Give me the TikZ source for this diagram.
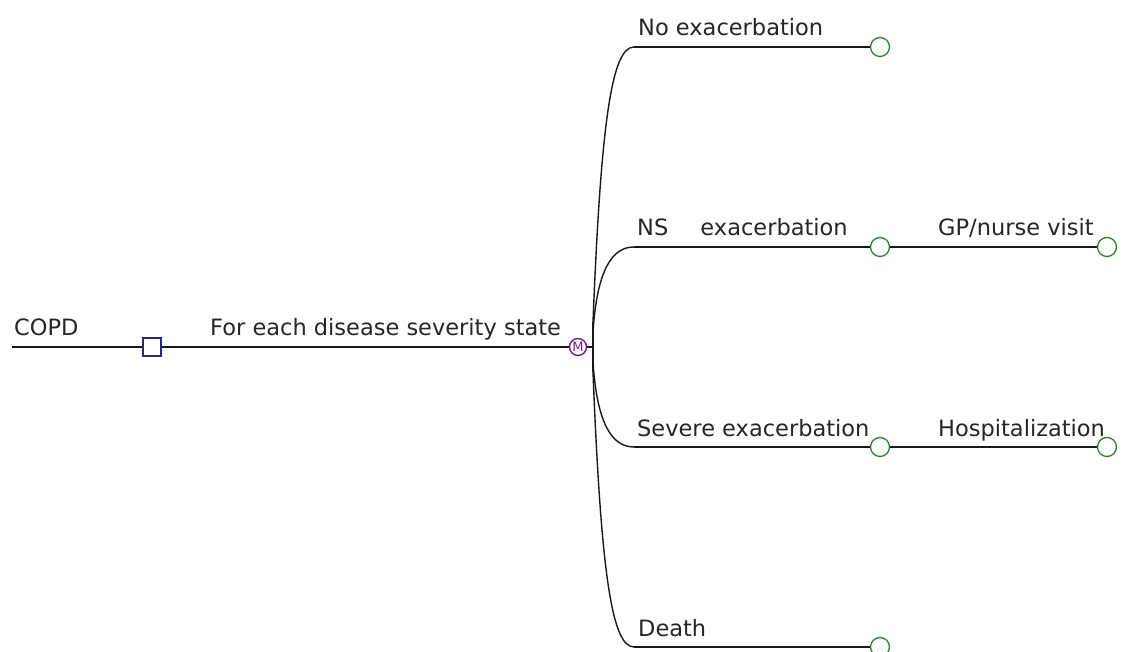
\documentclass[tikz,border=0pt]{standalone}
\usepackage{fontspec}
\setmainfont{DejaVu Sans}
\definecolor{mkpurple}{RGB}{120,30,130}
\definecolor{leafgreen}{RGB}{40,130,40}
\definecolor{decblue}{RGB}{40,40,120}
\begin{document}
\begin{tikzpicture}[x=1pt,y=-1pt,
  lbl/.style={anchor=base west,inner sep=0pt,font=\fontsize{22.5}{26}\selectfont,text=black!85},
  wire/.style={draw=black!90,line width=1.9pt},
  twig/.style={draw=black!90,line width=1.4pt},
  decision/.style={draw=decblue,line width=1.5pt,minimum size=18pt,inner sep=0pt},
  markov/.style={circle,draw=mkpurple,line width=1.4pt,minimum size=17pt,inner sep=0pt,
    text=mkpurple,font=\fontsize{13}{13}\selectfont},
  leaf/.style={circle,draw=leafgreen,line width=1.3pt,minimum size=19pt,inner sep=0pt}]
\useasboundingbox (0,0) rectangle (1133,652);

% root and decision node
\coordinate (root) at (12,347);
\node[decision] (dec) at (152,347) {};
\node[markov] (mk) at (578,347) {M};
\coordinate (hub) at (593,347);
\coordinate (hubtop) at (593,322);
\coordinate (hubbot) at (593,372);

\node[lbl] (tcopd) at (14,336) {COPD};
\node[lbl] (tstate) at (210,336) {For each disease severity state};

\draw[wire] (root) -- (dec.west);
\draw[wire] (dec.east) -- (mk.west);
\draw[wire] (mk.east) -- (hub);
\draw[wire] (hubtop) -- (hubbot);

% branch starts
\coordinate (b1) at (634,47);
\coordinate (b2) at (634,247);
\coordinate (b3) at (634,447);
\coordinate (b4) at (634,647);

% first-level outcomes
\node[leaf] (o1) at (880,47) {};
\node[leaf] (o2) at (880,247) {};
\node[leaf] (o3) at (880,447) {};
\node[leaf] (o4) at (880,647) {};

% second-level outcomes
\node[leaf] (p2) at (1107,247) {};
\node[leaf] (p3) at (1107,447) {};

% branch curves from the Markov hub
\draw[twig] (hubtop) .. controls (601,120) and (612,47) .. (b1);
\draw[twig] (593,332) .. controls (597,270) and (612,247) .. (b2);
\draw[twig] (593,362) .. controls (597,424) and (612,447) .. (b3);
\draw[twig] (hubbot) .. controls (601,574) and (612,647) .. (b4);

% horizontal branches
\draw[wire] (b1) -- (o1.west);
\draw[wire] (b2) -- (o2.west);
\draw[wire] (b3) -- (o3.west);
\draw[wire] (b4) -- (o4.west);
\draw[wire] (o2.east) -- (p2.west);
\draw[wire] (o3.east) -- (p3.west);

% branch labels
\node[lbl] (l1) at (638,36) {No exacerbation};
\node[lbl] (l2) at (637,236) {NS\hspace{25pt} exacerbation};
\node[lbl] (l3) at (637,436) {Severe exacerbation};
\node[lbl] (l4) at (638,636) {Death};
\node[lbl] (l5) at (938,236) {GP/nurse visit};
\node[lbl] (l6) at (938,436) {Hospitalization};
\end{tikzpicture}
\end{document}
